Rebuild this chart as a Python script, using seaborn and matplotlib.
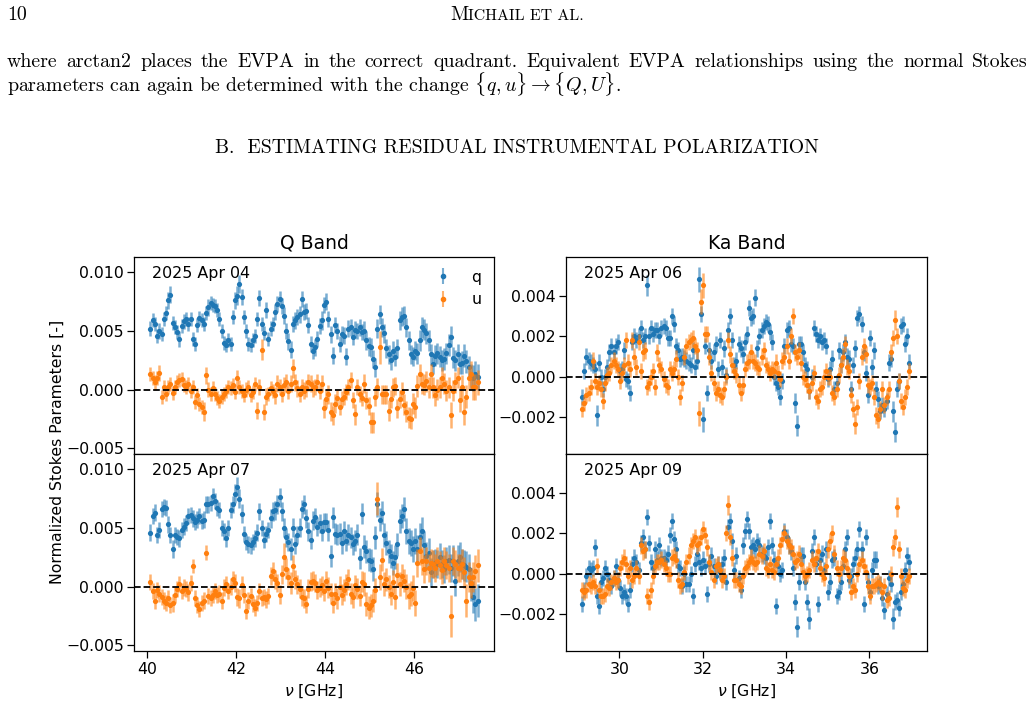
import numpy as np
import pandas as pd
import matplotlib
matplotlib.use("Agg")
import matplotlib.pyplot as plt
import seaborn as sns

# ---------------- data (values in 1e-3, errors in 1e-4) ----------------
q_band_freq_ghz = [
    40.07, 40.12, 40.17, 40.22, 40.27, 40.32, 40.37, 40.42, 40.47, 40.52,
    40.57, 40.62, 40.67, 40.72, 40.77, 40.82, 40.87, 40.92, 40.97, 41.02,
    41.07, 41.12, 41.17, 41.22, 41.27, 41.32, 41.37, 41.42, 41.47, 41.52,
    41.57, 41.62, 41.67, 41.72, 41.77, 41.82, 41.87, 41.92, 41.97, 42.02,
    42.07, 42.12, 42.17, 42.22, 42.27, 42.32, 42.37, 42.42, 42.47, 42.52,
    42.57, 42.62, 42.67, 42.72, 42.77, 42.82, 42.87, 42.92, 42.97, 43.02,
    43.07, 43.12, 43.17, 43.22, 43.27, 43.32, 43.37, 43.42, 43.47, 43.52,
    43.57, 43.62, 43.67, 43.72, 43.77, 43.82, 43.87, 43.92, 43.97, 44.02,
    44.07, 44.12, 44.17, 44.22, 44.27, 44.32, 44.37, 44.42, 44.47, 44.52,
    44.57, 44.62, 44.67, 44.72, 44.77, 44.82, 44.87, 44.92, 44.97, 45.02,
    45.07, 45.12, 45.17, 45.22, 45.27, 45.32, 45.37, 45.42, 45.47, 45.52,
    45.57, 45.62, 45.67, 45.72, 45.77, 45.82, 45.87, 45.92, 45.97, 46.02,
    46.07, 46.12, 46.17, 46.22, 46.27, 46.32, 46.37, 46.42, 46.47, 46.52,
    46.57, 46.62, 46.67, 46.72, 46.77, 46.82, 46.87, 46.92, 46.97, 47.02,
    47.07, 47.12, 47.17, 47.22, 47.27, 47.32, 47.37, 47.42]

ka_band_freq_ghz = [
    29.11, 29.16, 29.21, 29.26, 29.31, 29.36, 29.41, 29.46, 29.51, 29.56,
    29.61, 29.66, 29.71, 29.76, 29.81, 29.86, 29.91, 29.96, 30.01, 30.06,
    30.11, 30.16, 30.21, 30.26, 30.31, 30.36, 30.41, 30.46, 30.51, 30.56,
    30.61, 30.66, 30.71, 30.76, 30.81, 30.86, 30.91, 30.96, 31.01, 31.06,
    31.11, 31.16, 31.21, 31.26, 31.31, 31.36, 31.41, 31.46, 31.51, 31.56,
    31.61, 31.66, 31.71, 31.76, 31.81, 31.86, 31.91, 31.96, 32.01, 32.06,
    32.11, 32.16, 32.21, 32.26, 32.31, 32.36, 32.41, 32.46, 32.51, 32.56,
    32.61, 32.66, 32.71, 32.76, 32.81, 32.86, 32.91, 32.96, 33.01, 33.06,
    33.11, 33.16, 33.21, 33.26, 33.31, 33.36, 33.41, 33.46, 33.51, 33.56,
    33.61, 33.66, 33.71, 33.76, 33.81, 33.86, 33.91, 33.96, 34.01, 34.06,
    34.11, 34.16, 34.21, 34.26, 34.31, 34.36, 34.41, 34.46, 34.51, 34.56,
    34.61, 34.66, 34.71, 34.76, 34.81, 34.86, 34.91, 34.96, 35.01, 35.06,
    35.11, 35.16, 35.21, 35.26, 35.31, 35.36, 35.41, 35.46, 35.51, 35.56,
    35.61, 35.66, 35.71, 35.76, 35.81, 35.86, 35.91, 35.96, 36.01, 36.06,
    36.11, 36.16, 36.21, 36.26, 36.31, 36.36, 36.41, 36.46, 36.51, 36.56,
    36.61, 36.66, 36.71, 36.76, 36.81, 36.86, 36.91, 36.96]

# Q band, 2025 Apr 04
apr04_q = [
    5.2, 5.9, 5.6, 4.6, 5.0, 4.7, 6.0, 6.5, 7.6, 8.1,
    5.7, 5.3, 4.9, 4.3, 5.4, 5.8, 6.0, 5.6, 6.0, 4.3,
    3.9, 5.5, 6.1, 5.9, 5.6, 6.5, 7.0, 7.4, 7.2, 7.1,
    6.8, 6.0, 5.0, 4.0, 3.8, 4.2, 3.9, 6.2, 7.6, 8.0,
    9.0, 7.9, 6.2, 5.0, 3.9, 3.8, 4.2, 4.6, 6.0, 7.8,
    5.6, 4.8, 6.8, 4.3, 5.2, 5.6, 6.6, 7.3, 7.7, 7.1,
    6.3, 5.0, 4.1, 3.4, 5.6, 5.9, 6.2, 6.4, 7.7, 6.6,
    6.7, 5.5, 3.9, 3.3, 3.6, 4.3, 5.4, 5.9, 7.2, 7.5,
    6.0, 4.7, 2.9, 5.5, 5.0, 3.9, 4.7, 4.6, 2.8, 5.2,
    5.3, 4.5, 5.1, 5.0, 5.3, 4.9, 5.0, 4.2, 3.7, 3.6,
    2.6, 1.9, 5.2, 6.4, 5.3, 4.8, 3.5, 3.0, 2.5, 3.3,
    2.8, 3.5, 5.9, 6.2, 6.3, 5.3, 4.2, 3.0, 2.8, 3.3,
    3.1, 4.2, 5.3, 5.1, 4.8, 4.2, 3.0, 2.2, 2.9, 3.1,
    2.8, 2.5, 2.6, 3.1, 3.8, 4.5, 2.7, 2.5, 3.0, 2.2,
    2.3, 2.9, 2.4, 1.9, 1.1, 1.0, 1.3, 1.1]
apr04_u = [
    1.3, 1.0, 0.6, 1.0, 1.4, -0.6, 0.2, -0.4, 0.2, 0.5,
    -0.3, 0.2, 0.6, 0.8, 0.9, 0.4, 0.2, 0.5, -0.1, 0.2,
    -1.1, -0.5, -1.2, -1.5, -1.9, 1.2, 0.0, -0.4, 0.1, -0.4,
    -0.7, -1.0, -0.6, -0.4, -0.1, 0.2, 0.1, 0.4, -0.2, 1.0,
    0.2, -0.1, -0.5, 0.0, 0.2, -0.5, -0.2, 0.5, -1.8, 0.2,
    3.4, -1.9, -0.6, -0.4, 0.1, -0.1, -0.5, 0.5, 0.2, -0.4,
    0.4, 0.6, -0.1, 0.5, 1.8, 0.6, 0.1, -0.4, 0.2, -0.1,
    0.1, 0.6, 0.5, 0.1, 0.2, 0.6, -0.1, 0.5, -1.6, -0.8,
    -0.4, -1.9, -2.2, -1.2, -0.7, -1.5, -0.8, -0.6, -0.2, 0.2,
    0.8, -0.9, -2.1, 0.2, -0.4, -0.7, 0.5, -0.9, -1.4, -2.8,
    -2.8, -0.6, 0.2, 3.6, -0.4, -0.4, -0.4, -1.8, -0.8, 0.2,
    0.3, -1.6, -0.8, -0.2, -1.3, -1.9, -2.4, -2.5, -1.2, -1.5,
    0.3, 1.3, 0.5, 0.4, 0.7, 0.2, 1.3, 0.2, -0.5, 0.0,
    0.2, 1.0, 0.5, -0.1, 0.2, -2.2, -0.1, 0.6, 1.0, -0.9,
    0.2, -1.9, -0.6, 1.0, 1.3, 0.2, 0.2, 0.6]
apr04_q_err = [
    6, 6, 6, 6, 7, 6, 6, 6, 7, 7, 6, 6, 6, 7, 6, 6, 6, 6, 6, 6,
    6, 6, 6, 6, 6, 6, 7, 6, 6, 6, 6, 6, 6, 6, 6, 6, 6, 6, 7, 8,
    8, 7, 6, 6, 6, 6, 6, 6, 6, 7, 6, 6, 7, 6, 6, 6, 7, 7, 7, 7,
    7, 7, 7, 7, 7, 7, 7, 7, 7, 7, 7, 7, 7, 7, 7, 7, 7, 8, 7, 7,
    7, 7, 7, 7, 7, 7, 7, 7, 7, 7, 7, 7, 7, 7, 7, 7, 8, 8, 8, 8,
    8, 8, 8, 8, 8, 8, 8, 8, 8, 8, 8, 8, 8, 8, 8, 8, 8, 8, 8, 8,
    9, 9, 9, 9, 9, 9, 9, 9, 9, 9, 9, 9, 9, 9, 9, 9, 9, 9, 9, 9,
    10, 10, 10, 10, 11, 11, 11, 11]
apr04_u_err = [
    6, 6, 6, 6, 7, 6, 6, 6, 6, 6, 6, 6, 6, 6, 6, 6, 6, 6, 6, 6,
    6, 6, 6, 6, 8, 7, 6, 6, 6, 6, 6, 6, 6, 6, 6, 6, 6, 6, 6, 7,
    6, 6, 6, 6, 6, 6, 6, 6, 7, 7, 9, 7, 7, 6, 6, 6, 7, 7, 7, 7,
    7, 7, 7, 7, 8, 7, 7, 7, 7, 7, 7, 7, 7, 7, 7, 7, 7, 7, 8, 8,
    8, 8, 8, 8, 7, 7, 7, 7, 7, 7, 7, 7, 9, 7, 7, 7, 8, 8, 8, 9,
    9, 8, 8, 14, 8, 8, 8, 9, 8, 8, 8, 8, 8, 8, 9, 9, 9, 9, 9, 9,
    9, 9, 9, 9, 9, 9, 9, 9, 9, 9, 9, 9, 9, 9, 9, 11, 9, 9, 9, 10,
    10, 11, 10, 10, 11, 11, 11, 11]

# Q band, 2025 Apr 07
apr07_q = [
    4.6, 6.0, 6.3, 4.4, 4.8, 6.6, 6.8, 6.7, 5.3, 4.4,
    3.2, 4.4, 4.2, 4.1, 4.8, 5.1, 5.4, 6.0, 6.1, 5.8,
    5.5, 5.7, 6.0, 5.6, 5.7, 7.0, 7.0, 7.1, 7.7, 7.3,
    6.7, 6.5, 5.0, 4.7, 4.1, 5.0, 6.5, 7.0, 7.9, 8.5,
    7.5, 6.2, 4.5, 3.8, 3.6, 3.5, 3.8, 4.1, 4.6, 6.4,
    5.0, 4.0, 4.5, 4.8, 5.8, 6.4, 6.5, 7.0, 7.6, 6.4,
    5.0, 4.2, 3.8, 3.2, 5.0, 3.6, 4.4, 5.0, 6.6, 7.0,
    5.8, 4.7, 4.0, 5.6, 5.9, 5.1, 5.4, 4.7, 5.5, 5.5,
    4.8, 2.6, 5.9, 4.5, 4.4, 4.5, 3.7, 4.7, 3.9, 4.4,
    4.2, 3.6, 3.9, 4.4, 2.4, 6.2, 3.4, 3.0, 2.3, 2.2,
    1.5, 4.2, 7.0, 5.7, 6.3, 4.4, 3.7, 3.0, 2.6, 2.0,
    2.5, 3.6, 5.6, 6.0, 6.6, 4.7, 3.9, 3.7, 3.2, 3.9,
    3.2, 4.2, 4.7, 3.5, 2.6, 2.9, 1.2, 1.9, 2.0, 1.9,
    2.5, 1.9, 1.5, 2.2, 2.3, 1.6, 2.2, 0.5, 2.2, 2.5,
    1.9, 1.8, 1.7, 1.5, 0.2, -0.9, -1.5, -1.2]
apr07_u = [
    0.4, -0.4, -1.2, -0.3, -0.6, -0.9, -1.2, -1.4, -1.0, -1.6,
    -1.4, -0.7, -0.2, 0.2, -0.4, -0.1, -0.2, -0.5, 0.3, 1.75,
    -1.0, -1.6, -1.9, -1.4, -1.2, 2.9, -0.8, -1.0, -0.7, -0.4,
    -0.7, -0.6, -1.2, -0.1, 0.2, -0.4, 0.0, 0.6, 0.3, -0.9,
    -1.0, 0.1, -0.7, -2.1, -1.2, -0.8, -1.5, -1.8, -1.4, -0.4,
    -1.0, -0.9, -1.1, -0.8, 0.9, 1.3, 0.6, 0.3, -0.7, 1.05,
    2.5, 1.5, 0.8, 0.3, 1.75, 0.6, 0.2, -0.2, -0.9, -1.0,
    -1.5, -0.2, 0.4, 0.5, 0.3, -0.3, -0.1, 0.1, -0.4, 0.5,
    -0.1, -0.6, -1.4, -0.6, -1.0, 0.0, -0.7, -0.3, 0.2, 0.6,
    -0.6, -0.9, 0.1, -0.2, -0.8, 0.4, 0.2, -1.5, -1.8, -1.6,
    -1.2, -0.3, 7.5, 0.8, 2.3, 0.2, 0.6, 0.0, -0.6, 0.4,
    -0.9, 1.0, 0.2, 0.9, 0.5, 0.0, -0.8, -0.6, -0.1, -1.4,
    2.0, 3.0, 2.2, 1.5, 2.2, 1.6, 2.0, 1.9, 1.6, 2.2,
    1.8, 1.4, 2.2, 1.8, 1.6, -2.5, 2.2, 1.9, 1.6, 1.6,
    1.9, 1.2, -1.2, 0.8, 0.3, 0.8, 1.3, 1.8]
apr07_q_err = [
    7, 7, 7, 7, 7, 7, 7, 7, 7, 7, 8, 7, 7, 7, 7, 7, 7, 7, 7, 7,
    7, 7, 7, 7, 7, 7, 7, 7, 7, 7, 7, 7, 7, 7, 7, 7, 7, 7, 8, 8,
    8, 8, 7, 7, 7, 7, 7, 7, 7, 7, 7, 7, 7, 7, 8, 8, 8, 8, 8, 8,
    8, 8, 8, 9, 8, 8, 8, 8, 8, 8, 8, 8, 8, 8, 8, 8, 8, 8, 8, 8,
    9, 9, 9, 9, 9, 9, 9, 9, 9, 9, 9, 9, 9, 9, 9, 9, 10, 10, 10, 10,
    10, 10, 11, 10, 10, 10, 10, 10, 10, 10, 10, 10, 10, 10, 10, 11, 11, 11, 11, 11,
    12, 12, 12, 12, 12, 12, 12, 12, 12, 12, 12, 12, 12, 12, 12, 12, 13, 13, 13, 13,
    13, 13, 13, 13, 14, 14, 14, 14]
apr07_u_err = [
    7, 7, 7, 7, 7, 7, 7, 7, 7, 7, 8, 7, 7, 7, 7, 7, 7, 7, 7, 6,
    7, 7, 7, 7, 7, 6, 7, 7, 7, 7, 7, 7, 7, 7, 7, 7, 7, 7, 8, 8,
    8, 8, 7, 7, 7, 7, 7, 7, 7, 7, 7, 7, 7, 7, 8, 8, 8, 8, 8, 8,
    12, 9, 8, 9, 9, 8, 8, 8, 8, 8, 8, 8, 8, 8, 8, 8, 8, 8, 8, 8,
    9, 9, 9, 9, 9, 9, 9, 9, 9, 9, 9, 9, 9, 9, 9, 9, 10, 10, 10, 10,
    10, 10, 14, 11, 10, 10, 10, 10, 10, 10, 10, 10, 10, 10, 10, 11, 11, 11, 11, 11,
    12, 12, 12, 12, 12, 12, 12, 12, 12, 12, 12, 12, 12, 12, 12, 18, 12, 12, 12, 12,
    13, 13, 14, 13, 13, 13, 14, 14]

# Ka band, 2025 Apr 06
apr06_q = [
    -1.0, 0.3, 1.0, 0.8, 0.7, 0.6, 0.4, -1.9, 0.7, 0.0,
    -0.6, 0.0, 0.5, 1.2, 1.5, 1.2, 1.5, 1.7, 0.3, 0.4,
    1.3, -0.1, -0.2, -0.8, 1.7, 2.0, 1.8, 2.0, 2.4, 1.8,
    2.0, 4.5, 2.0, 2.4, 2.1, 2.3, 2.3, 2.0, 2.4, 2.5,
    2.4, 1.9, 1.9, 3.0, 2.6, 1.5, 1.3, 0.9, 1.0, 0.9,
    0.8, 0.7, 0.6, 1.3, 0.5, 0.8, 4.8, 3.1, -2.1, 1.5,
    -0.8, 1.3, 0.8, 1.2, 1.6, 0.4, 1.8, 0.5, 1.4, 0.1,
    2.3, 3.0, 1.8, 0.6, 0.8, 1.6, 1.4, 1.1, 1.7, 2.1,
    3.4, 2.9, 3.0, 3.9, 1.4, 2.0, 2.3, 2.5, 2.7, 2.6,
    2.2, 1.7, 0.0, -0.3, -0.5, -1.0, -0.2, 1.5, 2.3, 2.4,
    1.6, 1.5, -1.3, -2.4, 1.6, 1.6, 1.2, 0.6, 0.4, -0.7,
    0.0, 2.4, 2.1, 1.8, 2.0, 1.7, 1.8, 1.5, -0.1, 0.4,
    0.9, -0.6, -0.3, 1.3, 0.6, 1.2, 1.7, 1.0, 0.9, -0.6,
    0.6, 1.4, 2.9, 3.1, 2.6, 1.2, 0.2, -0.9, 1.9, 0.5,
    1.3, -0.6, -1.1, -1.7, -1.4, -1.6, -1.2, 0.7, 0.9, -1.7,
    -2.7, -0.6, -0.2, 2.5, 2.6, 1.6, 2.0, 0.7]
apr06_u = [
    -1.6, -1.3, -0.9, -0.8, -0.5, 0.8, -0.2, -0.5, -0.3, -0.6,
    -1.2, -0.3, 0.1, 0.2, 0.6, 0.8, 0.6, 0.4, -0.2, 0.2,
    0.6, 1.8, 0.7, 0.4, 1.8, 1.0, 0.5, 1.7, 0.3, 1.2,
    1.3, -0.5, -0.3, 0.0, 0.3, -0.5, 1.2, 0.6, 0.4, -0.1,
    -0.4, -0.5, 0.4, 0.2, 0.4, 0.9, 0.0, -1.0, -0.3, 1.0,
    1.5, 1.7, 1.8, 1.9, 1.5, 1.3, -1.8, 3.7, 4.5, 2.1,
    2.1, 1.0, 0.2, -0.3, -0.8, -0.6, -0.9, -1.0, -0.6, 0.0,
    1.8, 1.1, 0.6, 0.3, 0.1, -0.4, -0.8, -0.4, 0.4, 0.7,
    0.8, 1.2, 0.8, 0.7, 0.5, 0.4, 1.0, 1.3, 0.6, 0.4,
    0.2, 0.4, 0.3, 0.7, 0.2, -0.1, 0.8, 1.0, 1.5, 0.8,
    2.0, 3.0, 1.2, 1.0, 1.3, 0.7, 0.0, -0.1, -0.4, -0.7,
    -0.3, 0.2, -1.0, -1.2, -0.6, -0.5, 0.0, 0.3, 0.0, 0.0,
    -0.8, -1.0, -0.6, 0.1, 0.6, 1.0, 1.6, 0.5, 0.3, -0.9,
    -1.6, -2.3, -1.5, -0.2, 1.0, 1.5, 1.1, -0.4, -0.5, -0.3,
    -1.0, -1.9, -2.1, -1.6, -0.6, -1.4, -1.0, -0.6, 1.2, 1.9,
    2.8, 2.0, -0.2, -1.2, -1.5, -1.0, -0.5, 0.3]
apr06_q_err = [
    4, 4, 4, 4, 4, 4, 4, 5, 4, 4, 4, 4, 4, 4, 4, 4, 4, 4, 4, 4,
    4, 4, 4, 4, 4, 4, 4, 4, 4, 4, 4, 5, 4, 4, 4, 4, 4, 4, 4, 4,
    4, 4, 4, 4, 4, 4, 4, 4, 4, 4, 4, 4, 4, 4, 4, 4, 6, 4, 6, 4,
    4, 4, 4, 4, 4, 4, 4, 4, 4, 4, 4, 4, 4, 4, 4, 4, 4, 4, 4, 4,
    4, 4, 4, 4, 4, 4, 4, 4, 4, 4, 4, 4, 4, 4, 4, 4, 4, 4, 4, 4,
    4, 4, 5, 5, 4, 4, 4, 4, 4, 4, 4, 4, 4, 4, 4, 4, 4, 4, 4, 4,
    4, 4, 4, 4, 4, 4, 4, 4, 4, 4, 4, 4, 4, 4, 4, 4, 4, 4, 4, 4,
    4, 4, 4, 4, 4, 4, 4, 4, 4, 5, 5, 4, 4, 4, 4, 4, 4, 4]
apr06_u_err = [
    4, 4, 4, 4, 4, 4, 4, 4, 4, 4, 4, 4, 4, 4, 4, 4, 4, 4, 4, 4,
    4, 4, 4, 4, 4, 4, 4, 4, 4, 4, 4, 4, 4, 4, 4, 4, 4, 4, 4, 4,
    4, 4, 4, 4, 4, 4, 4, 4, 4, 4, 4, 4, 4, 4, 4, 4, 6, 6, 6, 4,
    4, 4, 4, 4, 4, 4, 4, 4, 4, 4, 4, 4, 4, 4, 4, 4, 4, 4, 4, 4,
    4, 4, 4, 4, 4, 4, 4, 4, 4, 4, 4, 4, 4, 4, 4, 4, 4, 4, 4, 4,
    4, 4, 4, 4, 4, 4, 4, 4, 4, 4, 4, 4, 4, 4, 4, 4, 4, 4, 4, 4,
    4, 4, 4, 4, 4, 4, 4, 4, 4, 4, 4, 5, 4, 4, 4, 4, 4, 4, 4, 4,
    4, 4, 4, 4, 4, 4, 4, 4, 4, 4, 5, 4, 4, 4, 4, 4, 4, 4]

# Ka band, 2025 Apr 09
apr09_q = [
    -1.5, -0.8, -0.1, 0.3, 0.2, 0.3, 1.3, -1.1, -1.6, -0.4,
    -0.2, 0.3, 0.0, -0.3, -0.6, -0.2, 0.4, -0.3, -0.7, -1.1,
    -0.9, -1.1, -1.5, -0.8, 0.5, 0.8, 0.6, 0.2, 1.5, 1.8,
    1.2, 2.8, 1.5, 0.6, 0.3, 1.2, 0.7, 1.4, 0.8, 0.8,
    0.7, 1.0, 1.9, 2.6, 1.7, 1.2, 0.4, 0.3, -0.6, 0.0,
    -0.5, -0.5, 0.0, -1.1, 0.5, 1.0, 0.6, 0.3, 0.7, 0.4,
    -1.0, 0.5, 0.9, 0.4, -0.1, 0.5, 0.1, 0.5, 0.8, -0.4,
    2.3, 2.6, 1.6, 0.2, 0.9, -0.2, -0.8, 1.4, 2.1, 2.7,
    2.1, 1.3, 1.4, 1.2, 1.6, 1.4, 1.0, 0.9, 0.8, 1.3,
    2.6, 1.4, 0.7, -1.6, 0.4, 0.0, 0.2, 2.1, 1.8, 1.4,
    1.1, 0.3, -1.4, -2.6, -0.4, 0.9, 0.9, -0.4, -1.4, -2.2,
    1.1, 1.8, 0.5, -1.5, 0.7, 1.0, 0.2, 1.2, -0.9, -0.4,
    0.7, 0.8, -1.1, -0.9, -0.4, 0.4, 1.2, 1.8, -0.3, -0.1,
    0.5, 0.8, 1.2, 2.2, 1.2, -1.5, 1.8, -0.4, -0.9, 0.2,
    0.7, 0.7, -0.6, -0.5, -1.2, -1.8, -1.0, -0.2, -0.5, -2.2,
    -1.4, -1.3, -1.7, -0.9, -0.5, 0.2, 0.9, 0.6]
apr09_u = [
    -0.8, -0.9, -0.8, -0.5, -0.6, -0.4, -0.6, 0.4, -0.8, -1.1,
    -1.1, -1.0, -0.6, -0.7, -0.4, -0.2, -0.4, -0.3, 0.3, 0.6,
    0.8, 0.5, -0.1, 0.3, -0.3, -0.1, 0.3, -0.1, 1.4, 1.1,
    1.2, -1.1, -1.4, -0.8, -0.1, 0.4, 0.6, 0.6, 0.7, 0.5,
    0.3, 0.0, 0.0, 0.8, 0.9, 0.7, -0.3, -0.6, -0.5, 0.1,
    0.6, 0.9, 1.4, 1.6, 1.8, 1.4, 1.5, 1.8, 2.2, 1.9,
    1.3, 0.6, 0.1, -0.3, 0.4, 0.5, 0.2, -0.3, -0.1, 2.0,
    3.4, 1.8, 0.8, -0.3, -0.3, -0.5, -0.6, -0.1, 0.3, 0.4,
    0.6, 0.8, 0.6, 0.5, 0.6, 1.0, 0.9, 1.1, 0.3, 0.2,
    0.5, 0.2, 0.1, 0.5, 0.8, 1.4, 1.7, 2.0, 1.6, 1.4,
    1.3, 1.0, 0.6, 0.7, 1.0, 0.5, 0.1, -0.1, 0.0, 0.2,
    0.7, 0.5, 0.8, 1.1, 0.3, 0.0, -0.2, 0.4, 1.2, 1.6,
    2.0, 1.0, 0.3, 0.0, 0.3, 0.8, 0.7, 0.3, -0.1, -0.9,
    -0.6, -0.8, 0.0, 0.5, 0.7, 0.4, 0.1, -0.6, -1.1, -0.6,
    -0.6, -0.5, -0.4, -0.5, -0.9, -0.6, -1.3, -1.2, 0.0, 1.3,
    1.8, 3.3, 1.2, -0.1, -0.7, -0.8, -0.3, -0.1]
apr09_q_err = [
    4, 4, 4, 4, 4, 4, 4, 4, 4, 4, 4, 4, 4, 4, 4, 4, 4, 4, 4, 4,
    4, 4, 4, 4, 4, 4, 4, 4, 4, 4, 4, 4, 4, 4, 4, 4, 4, 4, 4, 4,
    4, 4, 4, 4, 4, 4, 4, 4, 4, 4, 4, 4, 4, 4, 4, 4, 4, 4, 4, 4,
    4, 4, 4, 4, 4, 4, 4, 4, 4, 4, 4, 4, 4, 4, 4, 4, 4, 4, 4, 4,
    4, 4, 4, 4, 4, 4, 4, 4, 4, 4, 4, 4, 4, 4, 4, 4, 4, 4, 4, 4,
    4, 4, 4, 5, 4, 4, 4, 4, 4, 5, 4, 4, 4, 4, 4, 4, 4, 4, 4, 4,
    4, 4, 4, 4, 4, 4, 4, 4, 4, 4, 4, 4, 4, 4, 4, 4, 4, 4, 4, 4,
    4, 4, 4, 4, 4, 4, 4, 4, 4, 5, 4, 4, 4, 4, 4, 4, 4, 4]
apr09_u_err = [
    4, 4, 4, 4, 4, 4, 4, 4, 4, 4, 4, 4, 4, 4, 4, 4, 4, 4, 4, 4,
    4, 4, 4, 4, 4, 4, 4, 4, 4, 4, 4, 4, 4, 4, 4, 4, 4, 4, 4, 4,
    4, 4, 4, 4, 4, 4, 4, 4, 4, 4, 4, 4, 4, 4, 4, 4, 4, 4, 4, 4,
    4, 4, 4, 4, 4, 4, 4, 4, 4, 4, 5, 4, 4, 4, 4, 4, 4, 4, 4, 4,
    4, 4, 4, 4, 4, 4, 4, 4, 4, 4, 4, 4, 4, 4, 4, 4, 4, 4, 4, 4,
    4, 4, 4, 4, 4, 4, 4, 4, 4, 4, 4, 4, 4, 4, 4, 4, 4, 4, 4, 4,
    4, 4, 4, 4, 4, 4, 4, 4, 4, 4, 4, 4, 4, 4, 4, 4, 4, 4, 4, 4,
    4, 4, 4, 4, 4, 4, 4, 4, 4, 4, 4, 5, 4, 4, 4, 4, 4, 4]

band_titles = ["Q Band", "Ka Band"]
date_labels = ["2025 Apr 04", "2025 Apr 07", "2025 Apr 06", "2025 Apr 09"]
series_labels = ["q", "u"]
q_band_xticks = [40, 42, 44, 46]
ka_band_xticks = [30, 32, 34, 36]
q_band_yticks = [-0.005, 0.0, 0.005, 0.010]
ka_band_yticks = [-0.002, 0.0, 0.002, 0.004]

# ---------------- style ----------------
sns.set_style("ticks", {"axes.edgecolor": "black", "xtick.color": "black",
                        "ytick.color": "black", "text.color": "black",
                        "axes.labelcolor": "black"})
plt.rcParams["font.family"] = ["DejaVu Sans"]
plt.rcParams.update({
    "xtick.major.size": 5, "ytick.major.size": 5,
    "xtick.major.width": 0.9, "ytick.major.width": 0.9,
    "xtick.major.pad": 3.0, "ytick.major.pad": 2.2,
    "axes.linewidth": 0.9,
    "xtick.labelsize": 11.3, "ytick.labelsize": 11.3,
})
pal = sns.color_palette("tab10")
C_Q, C_U = pal[0], pal[1]

W, H = 1034, 726
fig = plt.figure(figsize=(W / 100, H / 100), dpi=100)


def rect(x0, y0, x1, y1):
    return [x0 / W, 1 - y1 / H, (x1 - x0) / W, (y1 - y0) / H]


axA = fig.add_axes(rect(134, 257, 494, 454))
axB = fig.add_axes(rect(134, 454, 494, 651), sharex=axA, sharey=axA)
axC = fig.add_axes(rect(566, 257, 927, 454))
axD = fig.add_axes(rect(566, 454, 927, 651), sharex=axC, sharey=axC)


def draw(ax, freq, q, qe, u, ue, label):
    z = 2.0
    for vals, errs, col in [(q, qe, C_Q), (u, ue, C_U)]:
        y = np.asarray(vals) * 1e-3
        e = np.asarray(errs) * 1e-4
        ax.errorbar(freq, y, yerr=e, fmt="none", ecolor=col, alpha=0.6,
                    elinewidth=1.8, zorder=z)
        df = pd.DataFrame({"freq": freq, "val": y})
        sns.scatterplot(data=df, x="freq", y="val", ax=ax, color=col, s=14,
                        marker="o", linewidth=0, zorder=z + 0.1, legend=False)
        z += 0.2
    ax.axhline(0, color="black", ls="--", lw=1.3, zorder=3)
    ax.set_xlabel("")
    ax.set_ylabel("")
    ax.text(0.05, 0.955, label, transform=ax.transAxes, ha="left", va="top",
            fontsize=11.4)


draw(axA, q_band_freq_ghz, apr04_q, apr04_q_err, apr04_u, apr04_u_err, date_labels[0])
draw(axB, q_band_freq_ghz, apr07_q, apr07_q_err, apr07_u, apr07_u_err, date_labels[1])
draw(axC, ka_band_freq_ghz, apr06_q, apr06_q_err, apr06_u, apr06_u_err, date_labels[2])
draw(axD, ka_band_freq_ghz, apr09_q, apr09_q_err, apr09_u, apr09_u_err, date_labels[3])

axA.set_xlim(39.70, 47.79)
axA.set_ylim(-0.0055, 0.0113)
axA.set_xticks(q_band_xticks)
axA.set_yticks(q_band_yticks)
axC.set_xlim(28.72, 37.38)
axC.set_ylim(-0.0038, 0.0059)
axC.set_xticks(ka_band_xticks)
axC.set_yticks(ka_band_yticks)
for ax in (axA, axC):
    ax.tick_params(labelbottom=False)

axA.set_title(band_titles[0], fontsize=13.5, pad=6)
axC.set_title(band_titles[1], fontsize=13.5, pad=6)
axB.set_xlabel(r"$\nu$ [GHz]", fontsize=11.3)
axD.set_xlabel(r"$\nu$ [GHz]", fontsize=11.3)
fig.text(57 / W, 1 - 452 / H, "Normalized Stokes Parameters [-]", rotation=90,
         ha="center", va="center", fontsize=11.3)

# legend proxies (errorbar style handles)
hq = axA.errorbar([np.nan], [np.nan], yerr=[1e-4], fmt=".", color=C_Q, ms=6,
                  ecolor=(*C_Q, 0.6), elinewidth=1.5)
hu = axA.errorbar([np.nan], [np.nan], yerr=[1e-4], fmt=".", color=C_U, ms=6,
                  ecolor=(*C_U, 0.6), elinewidth=1.5)
axA.legend([hq, hu], series_labels, loc="upper right", frameon=False,
           fontsize=11.3, handlelength=2.0, borderaxespad=0.4)

# ---------------- page text around the figure ----------------
renderer = fig.canvas.get_renderer()
SERIF = "cmr10"
BODY = 14.3


def place_seq(parts, x_start, y_base):
    arts = []
    x = x_start
    for txt, size in parts:
        a = fig.text(x / W, 1 - y_base / H, txt, family=SERIF, fontsize=size,
                     ha="left", va="baseline")
        w = a.get_window_extent(renderer).width
        arts.append((a, w))
        x += w
    return arts, x - x_start


def place_centered(parts, x_center, y_base):
    arts, total = place_seq(parts, 0, y_base)
    x = x_center - total / 2
    for a, w in arts:
        a.set_x(x / W)
        x += w


def justify(words, x0, x1, y_base, size):
    arts = [fig.text(0, 1 - y_base / H, w, family=SERIF, fontsize=size,
                     ha="left", va="baseline", math_fontfamily="cm")
            for w in words]
    widths = [a.get_window_extent(renderer).width for a in arts]
    gap = (x1 - x0 - sum(widths)) / (len(words) - 1)
    x = x0
    for a, w in zip(arts, widths):
        a.set_x(x / W)
        x += w + gap


fig.text(7 / W, 1 - 20 / H, "10", family=SERIF, fontsize=BODY, ha="left",
         va="baseline")
place_centered([("M", BODY), ("ICHAIL ET AL.", BODY * 0.8)], 517, 20)
justify("where arctan2 places the EVPA in the correct quadrant.  Equivalent EVPA "
        "relationships using the normal Stokes".split(), 7, 1028, 67, BODY)
fig.text(7 / W, 1 - 92 / H,
         r"parameters can again be determined with the change $\{q, u\} \rightarrow \{Q, U\}$.",
         family=SERIF, fontsize=BODY, ha="left", va="baseline", math_fontfamily="cm")
place_centered([("B.  ESTIMATING RESIDUAL INSTRUMENTAL POLARIZATION", 14.15)], 517, 153)

fig.savefig("out.png", dpi=100)
